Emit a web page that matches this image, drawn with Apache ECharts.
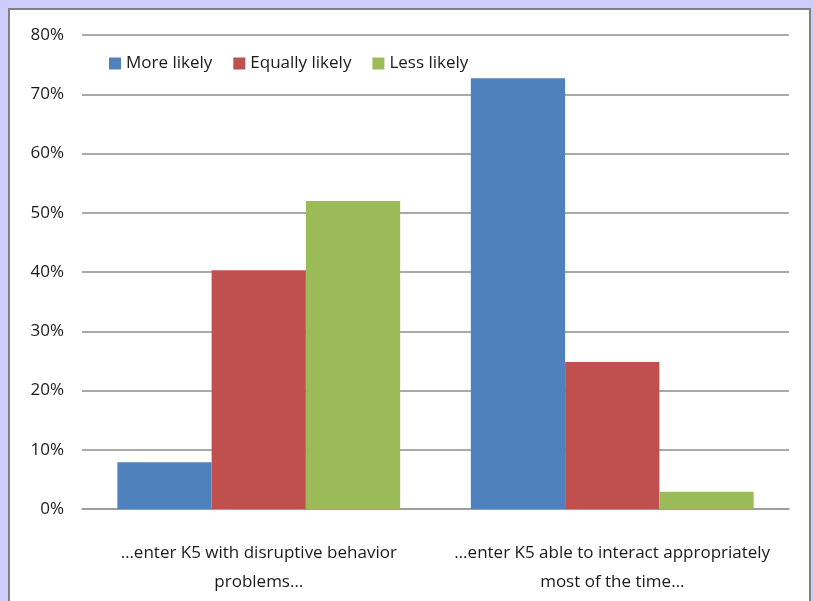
<!DOCTYPE html>
<html>
<head>
<meta charset="utf-8">
<script src="https://cdn.jsdelivr.net/npm/echarts@6/dist/echarts.min.js"></script>
<style>
html,body{margin:0;padding:0;background:#CCCCFF;}
#c{width:814px;height:601px;}
</style>
</head>
<body>
<div id="c"></div>
<script>
const categories = ['…enter K5 with disruptive behavior\nproblems…', '…enter K5 able to interact appropriately\nmost of the time…'];
const seriesNames = ['More likely', 'Equally likely', 'Less likely'];
const moreLikely = [7.9, 72.7];
const equallyLikely = [40.3, 24.8];
const lessLikely = [52.0, 2.9];
const yTicks = [0, 10, 20, 30, 40, 50, 60, 70, 80];
const colors = ['#4F81BD', '#C0504D', '#9BBB59'];
const font = '"Liberation Sans Narrow", "Open Sans", sans-serif';

const chart = echarts.init(document.getElementById('c'));
const seriesData = [moreLikely, equallyLikely, lessLikely];
chart.setOption({
  backgroundColor: '#CCCCFF',
  animation: false,
  textStyle: {fontFamily: font},
  graphic: [{
    type: 'rect', z: -10, silent: true,
    shape: {x: 9, y: 9, width: 801, height: 600},
    style: {fill: '#FFFFFF', stroke: '#808080', lineWidth: 2}
  }],
  legend: {
    left: 104, top: 50,
    itemWidth: 12, itemHeight: 12, itemGap: 21,
    icon: 'rect',
    textStyle: {fontFamily: font, fontSize: 17, color: '#1a1a1a'},
    data: seriesNames
  },
  grid: {left: 82, right: 25, top: 35, bottom: 92, containLabel: false},
  xAxis: {
    type: 'category', data: categories,
    axisTick: {show: false},
    axisLine: {lineStyle: {color: '#999', width: 1.5}},
    axisLabel: {fontFamily: font, fontSize: 17, color: '#1a1a1a', margin: 30, lineHeight: 29, interval: 0}
  },
  yAxis: {
    type: 'value', min: yTicks[0], max: yTicks[yTicks.length - 1], interval: 10,
    axisLine: {show: false}, axisTick: {show: false},
    splitLine: {lineStyle: {color: '#8c8c8c', width: 1.5}},
    axisLabel: {fontFamily: font, fontSize: 17, color: '#1a1a1a', margin: 18, formatter: v => v + '%'}
  },
  series: seriesNames.map((n, i) => ({
    name: n, type: 'bar', data: seriesData[i],
    itemStyle: {color: colors[i]},
    barGap: '0%', barCategoryGap: '20%'
  }))
});
</script>
</body>
</html>
